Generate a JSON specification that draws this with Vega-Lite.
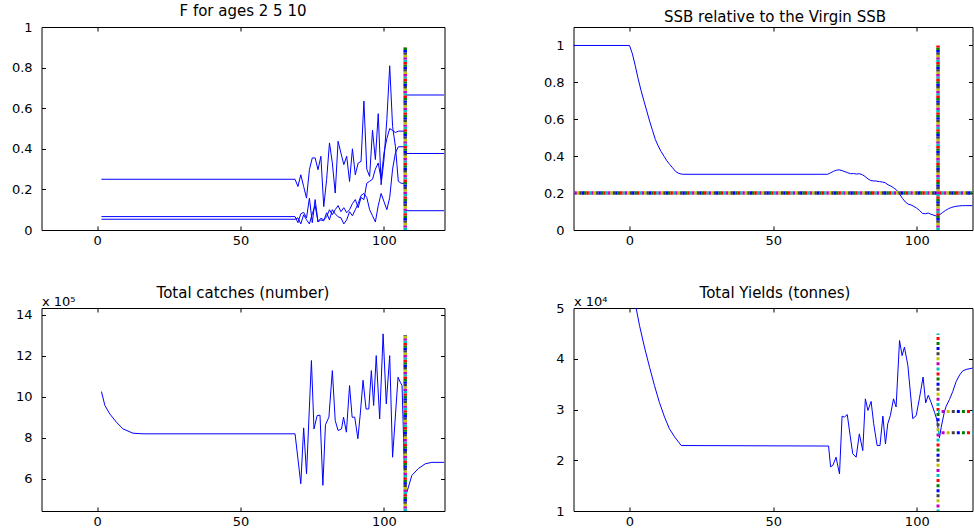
{
  "$schema": "https://vega.github.io/schema/vega-lite/v6.json",
  "background": "white",
  "padding": {"left": 10.5, "top": 3, "right": 0, "bottom": 0},
  "bounds": "flush",
  "columns": 2,
  "spacing": {"row": 78, "column": 129},
  "resolve": {"scale": {"strokeDash": "independent"}},
  "config": {
    "font": "DejaVu Sans",
    "view": {"stroke": "#000000", "strokeWidth": 1},
    "axis": {"labelFont": "DejaVu Sans", "labelFontSize": 13, "labelColor": "#000000", "tickColor": "#000000", "tickSize": -4, "tickWidth": 1, "domain": false, "grid": false, "labelFlush": false, "labelOverlap": false},
    "axisX": {"format": "d"},
    "axisY": {"format": "~g"},
    "axisBottom": {"labelPadding": 8.5},
    "axisLeft": {"labelPadding": 13.4},
    "title": {"font": "DejaVu Sans", "fontSize": 15, "fontWeight": "normal", "color": "#000000", "frame": "group", "baseline": "alphabetic", "anchor": "middle"}
  },
  "datasets": {
    "tl": [
      {"s": "a", "x": 1.5, "y": 0.25}, {"s": "a", "x": 69, "y": 0.25}, {"s": "a", "x": 70, "y": 0.214}, {"s": "a", "x": 71, "y": 0.272}, {"s": "a", "x": 72, "y": 0.214}, {"s": "a", "x": 73, "y": 0.157}, {"s": "a", "x": 74, "y": 0.297}, {"s": "a", "x": 75, "y": 0.355}, {"s": "a", "x": 76, "y": 0.355}, {"s": "a", "x": 77, "y": 0.297}, {"s": "a", "x": 78, "y": 0.363}, {"s": "a", "x": 79, "y": 0.115}, {"s": "a", "x": 80, "y": 0.248}, {"s": "a", "x": 81, "y": 0.429}, {"s": "a", "x": 82, "y": 0.33}, {"s": "a", "x": 83, "y": 0.182}, {"s": "a", "x": 84, "y": 0.437}, {"s": "a", "x": 85, "y": 0.379}, {"s": "a", "x": 86, "y": 0.322}, {"s": "a", "x": 87, "y": 0.363}, {"s": "a", "x": 88, "y": 0.239}, {"s": "a", "x": 89, "y": 0.4}, {"s": "a", "x": 90, "y": 0.272}, {"s": "a", "x": 91, "y": 0.33}, {"s": "a", "x": 92, "y": 0.338}, {"s": "a", "x": 93, "y": 0.635}, {"s": "a", "x": 94, "y": 0.3}, {"s": "a", "x": 95, "y": 0.264}, {"s": "a", "x": 96, "y": 0.492}, {"s": "a", "x": 97, "y": 0.347}, {"s": "a", "x": 98, "y": 0.573}, {"s": "a", "x": 99, "y": 0.223}, {"s": "a", "x": 100, "y": 0.347}, {"s": "a", "x": 101, "y": 0.545}, {"s": "a", "x": 102, "y": 0.809}, {"s": "a", "x": 103, "y": 0.51}, {"s": "a", "x": 104, "y": 0.41}, {"s": "a", "x": 105, "y": 0.24}, {"s": "a", "x": 106, "y": 0.23}, {"s": "a", "x": 107.4, "y": 0.23},
      {"s": "b", "x": 1.5, "y": 0.066}, {"s": "b", "x": 69, "y": 0.066}, {"s": "b", "x": 70, "y": 0.036}, {"s": "b", "x": 71, "y": 0.08}, {"s": "b", "x": 72, "y": 0.087}, {"s": "b", "x": 73, "y": 0.06}, {"s": "b", "x": 74, "y": 0.157}, {"s": "b", "x": 75, "y": 0.036}, {"s": "b", "x": 76, "y": 0.15}, {"s": "b", "x": 77, "y": 0.04}, {"s": "b", "x": 78, "y": 0.058}, {"s": "b", "x": 79, "y": 0.05}, {"s": "b", "x": 80, "y": 0.065}, {"s": "b", "x": 81, "y": 0.1}, {"s": "b", "x": 82, "y": 0.075}, {"s": "b", "x": 83, "y": 0.1}, {"s": "b", "x": 84, "y": 0.12}, {"s": "b", "x": 85, "y": 0.09}, {"s": "b", "x": 86, "y": 0.11}, {"s": "b", "x": 87, "y": 0.085}, {"s": "b", "x": 88, "y": 0.1}, {"s": "b", "x": 89, "y": 0.13}, {"s": "b", "x": 90, "y": 0.15}, {"s": "b", "x": 91, "y": 0.11}, {"s": "b", "x": 92, "y": 0.16}, {"s": "b", "x": 93, "y": 0.15}, {"s": "b", "x": 94, "y": 0.23}, {"s": "b", "x": 95, "y": 0.24}, {"s": "b", "x": 96, "y": 0.25}, {"s": "b", "x": 97, "y": 0.3}, {"s": "b", "x": 98, "y": 0.33}, {"s": "b", "x": 99, "y": 0.25}, {"s": "b", "x": 100, "y": 0.38}, {"s": "b", "x": 101, "y": 0.45}, {"s": "b", "x": 102, "y": 0.5}, {"s": "b", "x": 103, "y": 0.49}, {"s": "b", "x": 104, "y": 0.48}, {"s": "b", "x": 105, "y": 0.487}, {"s": "b", "x": 107.4, "y": 0.487},
      {"s": "c", "x": 1.5, "y": 0.053}, {"s": "c", "x": 69, "y": 0.053}, {"s": "c", "x": 70, "y": 0.06}, {"s": "c", "x": 71, "y": 0.03}, {"s": "c", "x": 72, "y": 0.075}, {"s": "c", "x": 73, "y": 0.05}, {"s": "c", "x": 74, "y": 0.03}, {"s": "c", "x": 75, "y": 0.08}, {"s": "c", "x": 76, "y": 0.12}, {"s": "c", "x": 77, "y": 0.04}, {"s": "c", "x": 78, "y": 0.05}, {"s": "c", "x": 79, "y": 0.045}, {"s": "c", "x": 80, "y": 0.085}, {"s": "c", "x": 81, "y": 0.05}, {"s": "c", "x": 82, "y": 0.1}, {"s": "c", "x": 83, "y": 0.08}, {"s": "c", "x": 84, "y": 0.065}, {"s": "c", "x": 85, "y": 0.06}, {"s": "c", "x": 86, "y": 0.03}, {"s": "c", "x": 87, "y": 0.05}, {"s": "c", "x": 88, "y": 0.09}, {"s": "c", "x": 89, "y": 0.07}, {"s": "c", "x": 90, "y": 0.1}, {"s": "c", "x": 91, "y": 0.13}, {"s": "c", "x": 92, "y": 0.17}, {"s": "c", "x": 93, "y": 0.18}, {"s": "c", "x": 94, "y": 0.16}, {"s": "c", "x": 95, "y": 0.1}, {"s": "c", "x": 96, "y": 0.07}, {"s": "c", "x": 97, "y": 0.04}, {"s": "c", "x": 98, "y": 0.12}, {"s": "c", "x": 99, "y": 0.18}, {"s": "c", "x": 100, "y": 0.14}, {"s": "c", "x": 101, "y": 0.1}, {"s": "c", "x": 102, "y": 0.16}, {"s": "c", "x": 103, "y": 0.3}, {"s": "c", "x": 104, "y": 0.38}, {"s": "c", "x": 105, "y": 0.41}, {"s": "c", "x": 107.4, "y": 0.41},
      {"s": "pa", "x": 107.4, "y": 0.665}, {"s": "pa", "x": 121, "y": 0.665},
      {"s": "pb", "x": 107.4, "y": 0.377}, {"s": "pb", "x": 121, "y": 0.377},
      {"s": "pc", "x": 107.4, "y": 0.095}, {"s": "pc", "x": 121, "y": 0.095}
    ],
    "tlr": [
      {"x": 107.4, "x2": 107.4, "y": 0, "y2": 0.9, "k": "0"}, {"x": 107.4, "x2": 107.4, "y": 0, "y2": 0.9, "k": "1"}, {"x": 107.4, "x2": 107.4, "y": 0, "y2": 0.9, "k": "2"}, {"x": 107.4, "x2": 107.4, "y": 0, "y2": 0.9, "k": "3"}, {"x": 107.4, "x2": 107.4, "y": 0, "y2": 0.9, "k": "4"}, {"x": 107.4, "x2": 107.4, "y": 0, "y2": 0.9, "k": "5"}, {"x": 107.4, "x2": 107.4, "y": 0, "y2": 0.9, "k": "6"}
    ],
    "tr": [
      {"x": -20, "y": 1}, {"x": 0, "y": 1}, {"x": 1, "y": 0.955}, {"x": 2, "y": 0.89}, {"x": 3, "y": 0.82}, {"x": 4, "y": 0.757}, {"x": 5, "y": 0.7}, {"x": 6, "y": 0.645}, {"x": 7, "y": 0.59}, {"x": 8, "y": 0.54}, {"x": 9, "y": 0.49}, {"x": 10, "y": 0.455}, {"x": 11, "y": 0.425}, {"x": 12, "y": 0.4}, {"x": 13, "y": 0.375}, {"x": 14, "y": 0.355}, {"x": 15, "y": 0.337}, {"x": 16, "y": 0.318}, {"x": 17, "y": 0.308}, {"x": 18, "y": 0.303}, {"x": 19, "y": 0.302}, {"x": 69, "y": 0.302}, {"x": 70, "y": 0.31}, {"x": 71, "y": 0.318}, {"x": 72, "y": 0.324}, {"x": 73, "y": 0.326}, {"x": 74, "y": 0.322}, {"x": 75, "y": 0.316}, {"x": 76, "y": 0.31}, {"x": 77, "y": 0.305}, {"x": 78, "y": 0.306}, {"x": 79, "y": 0.303}, {"x": 80, "y": 0.305}, {"x": 81, "y": 0.3}, {"x": 82, "y": 0.29}, {"x": 83, "y": 0.277}, {"x": 84, "y": 0.268}, {"x": 85, "y": 0.266}, {"x": 86, "y": 0.265}, {"x": 87, "y": 0.262}, {"x": 88, "y": 0.26}, {"x": 89, "y": 0.256}, {"x": 90, "y": 0.245}, {"x": 91, "y": 0.238}, {"x": 92, "y": 0.228}, {"x": 93, "y": 0.216}, {"x": 94, "y": 0.195}, {"x": 95, "y": 0.172}, {"x": 96, "y": 0.152}, {"x": 97, "y": 0.14}, {"x": 98, "y": 0.136}, {"x": 99, "y": 0.128}, {"x": 100, "y": 0.118}, {"x": 101, "y": 0.105}, {"x": 102, "y": 0.09}, {"x": 103, "y": 0.088}, {"x": 104, "y": 0.092}, {"x": 105, "y": 0.085}, {"x": 106, "y": 0.08}, {"x": 107, "y": 0.075}, {"x": 108, "y": 0.083}, {"x": 109, "y": 0.095}, {"x": 110, "y": 0.106}, {"x": 111, "y": 0.115}, {"x": 112, "y": 0.122}, {"x": 113, "y": 0.126}, {"x": 114, "y": 0.129}, {"x": 115, "y": 0.131}, {"x": 116, "y": 0.132}, {"x": 117, "y": 0.132}, {"x": 121, "y": 0.132}
    ],
    "trr": [
      {"x": -20, "x2": 121, "y": 0.2, "y2": 0.2, "k": "0"}, {"x": -20, "x2": 121, "y": 0.2, "y2": 0.2, "k": "1"}, {"x": -20, "x2": 121, "y": 0.2, "y2": 0.2, "k": "2"}, {"x": -20, "x2": 121, "y": 0.2, "y2": 0.2, "k": "3"}, {"x": -20, "x2": 121, "y": 0.2, "y2": 0.2, "k": "4"}, {"x": -20, "x2": 121, "y": 0.2, "y2": 0.2, "k": "5"}, {"x": -20, "x2": 121, "y": 0.2, "y2": 0.2, "k": "6"},
      {"x": 107.4, "x2": 107.4, "y": 0, "y2": 1, "k": "0"}, {"x": 107.4, "x2": 107.4, "y": 0, "y2": 1, "k": "1"}, {"x": 107.4, "x2": 107.4, "y": 0, "y2": 1, "k": "2"}, {"x": 107.4, "x2": 107.4, "y": 0, "y2": 1, "k": "3"}, {"x": 107.4, "x2": 107.4, "y": 0, "y2": 1, "k": "4"}, {"x": 107.4, "x2": 107.4, "y": 0, "y2": 1, "k": "5"}, {"x": 107.4, "x2": 107.4, "y": 0, "y2": 1, "k": "6"}
    ],
    "bl": [
      {"x": 1.5, "y": 1025000}, {"x": 2.7, "y": 957000}, {"x": 4.4, "y": 916000}, {"x": 6.7, "y": 876000}, {"x": 9, "y": 843000}, {"x": 12.5, "y": 822000}, {"x": 16, "y": 819000}, {"x": 69, "y": 819000}, {"x": 71, "y": 576000}, {"x": 72, "y": 848000}, {"x": 73, "y": 624000}, {"x": 74.7, "y": 1176000}, {"x": 75.6, "y": 843000}, {"x": 76.7, "y": 908000}, {"x": 77.7, "y": 910000}, {"x": 78.7, "y": 568000}, {"x": 79.6, "y": 863000}, {"x": 80.8, "y": 900000}, {"x": 82, "y": 1127000}, {"x": 83, "y": 884000}, {"x": 84, "y": 835000}, {"x": 85.2, "y": 843000}, {"x": 85.9, "y": 900000}, {"x": 86.9, "y": 827000}, {"x": 88, "y": 1054000}, {"x": 88.9, "y": 900000}, {"x": 89.8, "y": 900000}, {"x": 90.9, "y": 795000}, {"x": 91.8, "y": 925000}, {"x": 92.7, "y": 1080000}, {"x": 93.75, "y": 940000}, {"x": 94.7, "y": 940000}, {"x": 95.6, "y": 1127000}, {"x": 96.4, "y": 957000}, {"x": 97.3, "y": 1200000}, {"x": 98.5, "y": 892000}, {"x": 99.7, "y": 1306000}, {"x": 100.8, "y": 965000}, {"x": 102, "y": 1200000}, {"x": 103, "y": 705000}, {"x": 104.9, "y": 1095000}, {"x": 105.7, "y": 1070000}, {"x": 106.3, "y": 1054000}, {"x": 107.4, "y": 519000}, {"x": 108, "y": 535000}, {"x": 109.7, "y": 616000}, {"x": 112, "y": 650000}, {"x": 114.4, "y": 673000}, {"x": 116.7, "y": 680000}, {"x": 121, "y": 680000}
    ],
    "blr": [
      {"x": 107.4, "x2": 107.4, "y": 443000, "y2": 1300000, "k": "0"}, {"x": 107.4, "x2": 107.4, "y": 443000, "y2": 1300000, "k": "1"}, {"x": 107.4, "x2": 107.4, "y": 443000, "y2": 1300000, "k": "2"}, {"x": 107.4, "x2": 107.4, "y": 443000, "y2": 1300000, "k": "3"}, {"x": 107.4, "x2": 107.4, "y": 443000, "y2": 1300000, "k": "4"}, {"x": 107.4, "x2": 107.4, "y": 443000, "y2": 1300000, "k": "5"}, {"x": 107.4, "x2": 107.4, "y": 443000, "y2": 1300000, "k": "6"}
    ],
    "br": [
      {"x": 1, "y": 53700}, {"x": 2.3, "y": 50000}, {"x": 3.5, "y": 46500}, {"x": 5.2, "y": 42300}, {"x": 7, "y": 38300}, {"x": 8.7, "y": 34700}, {"x": 10.4, "y": 31400}, {"x": 12.2, "y": 28500}, {"x": 13.9, "y": 26200}, {"x": 15.7, "y": 24600}, {"x": 18, "y": 22900}, {"x": 69.3, "y": 22800}, {"x": 70, "y": 18700}, {"x": 70.8, "y": 19000}, {"x": 71.9, "y": 20600}, {"x": 73.1, "y": 17300}, {"x": 74, "y": 28700}, {"x": 74.8, "y": 28500}, {"x": 75.8, "y": 29000}, {"x": 76.8, "y": 24900}, {"x": 77.7, "y": 21300}, {"x": 78.9, "y": 20600}, {"x": 80, "y": 25200}, {"x": 81.2, "y": 21900}, {"x": 82.1, "y": 32100}, {"x": 83, "y": 29800}, {"x": 84.1, "y": 31600}, {"x": 85, "y": 27200}, {"x": 86.2, "y": 22900}, {"x": 87.2, "y": 22900}, {"x": 88.2, "y": 28700}, {"x": 89.1, "y": 23200}, {"x": 89.9, "y": 27200}, {"x": 90.8, "y": 28800}, {"x": 91.9, "y": 32100}, {"x": 92.8, "y": 30500}, {"x": 94, "y": 43600}, {"x": 94.9, "y": 40600}, {"x": 95.7, "y": 42300}, {"x": 96.9, "y": 38700}, {"x": 98.6, "y": 28200}, {"x": 99.8, "y": 28800}, {"x": 100.9, "y": 32100}, {"x": 102.2, "y": 36400}, {"x": 103.1, "y": 31300}, {"x": 104, "y": 32800}, {"x": 105, "y": 31400}, {"x": 106.2, "y": 29400}, {"x": 107, "y": 28000}, {"x": 107.9, "y": 24400}, {"x": 108.5, "y": 26500}, {"x": 109.6, "y": 29500}, {"x": 110.2, "y": 30600}, {"x": 111.4, "y": 32000}, {"x": 112.5, "y": 33500}, {"x": 113.7, "y": 35500}, {"x": 114.9, "y": 36800}, {"x": 116, "y": 37600}, {"x": 117.2, "y": 37900}, {"x": 119.8, "y": 38200}, {"x": 121, "y": 38200}
    ],
    "brr": [
      {"x": 107.4, "x2": 107.4, "y": 10000, "y2": 45000, "k": "0"}, {"x": 107.4, "x2": 107.4, "y": 10000, "y2": 45000, "k": "1"}, {"x": 107.4, "x2": 107.4, "y": 10000, "y2": 45000, "k": "2"}, {"x": 107.4, "x2": 107.4, "y": 10000, "y2": 45000, "k": "3"}, {"x": 107.4, "x2": 107.4, "y": 10000, "y2": 45000, "k": "4"}, {"x": 107.4, "x2": 107.4, "y": 10000, "y2": 45000, "k": "5"}, {"x": 107.4, "x2": 107.4, "y": 10000, "y2": 45000, "k": "6"},
      {"x": 107.4, "x2": 121, "y": 29600, "y2": 29600, "k": "0"}, {"x": 107.4, "x2": 121, "y": 29600, "y2": 29600, "k": "1"}, {"x": 107.4, "x2": 121, "y": 29600, "y2": 29600, "k": "2"}, {"x": 107.4, "x2": 121, "y": 29600, "y2": 29600, "k": "3"}, {"x": 107.4, "x2": 121, "y": 29600, "y2": 29600, "k": "4"}, {"x": 107.4, "x2": 121, "y": 29600, "y2": 29600, "k": "5"}, {"x": 107.4, "x2": 121, "y": 29600, "y2": 29600, "k": "6"},
      {"x": 107.4, "x2": 121, "y": 25400, "y2": 25400, "k": "0"}, {"x": 107.4, "x2": 121, "y": 25400, "y2": 25400, "k": "1"}, {"x": 107.4, "x2": 121, "y": 25400, "y2": 25400, "k": "2"}, {"x": 107.4, "x2": 121, "y": 25400, "y2": 25400, "k": "3"}, {"x": 107.4, "x2": 121, "y": 25400, "y2": 25400, "k": "4"}, {"x": 107.4, "x2": 121, "y": 25400, "y2": 25400, "k": "5"}, {"x": 107.4, "x2": 121, "y": 25400, "y2": 25400, "k": "6"}
    ]
  },
  "concat": [
    {
      "width": 403, "height": 203,
      "title": {"text": "F for ages 2 5 10", "offset": 2},
      "layer": [
        {
          "data": {"name": "tl"},
          "mark": {"type": "line", "color": "#0000ff", "strokeWidth": 1, "clip": true},
          "encoding": {
            "x": {"field": "x", "type": "quantitative", "scale": {"domain": [-19.4, 121.1], "nice": false, "zero": false}, "axis": {"orient": "bottom", "values": [0, 50, 100], "title": null}},
            "y": {"field": "y", "type": "quantitative", "scale": {"domain": [0, 1], "nice": false, "zero": false}, "axis": {"orient": "left", "values": [0, 0.2, 0.4, 0.6, 0.8, 1], "title": null}},
            "detail": {"field": "s", "type": "nominal"}
          }
        },
        {
          "data": {"name": "tlr"},
          "mark": {"type": "rule", "strokeWidth": 3.5, "strokeCap": "butt", "clip": true},
          "encoding": {
            "x": {"field": "x", "type": "quantitative", "scale": {"domain": [-19.4, 121.1], "nice": false, "zero": false}, "axis": {"orient": "top", "labels": false, "values": [0, 50, 100], "title": null}},
            "x2": {"field": "x2"},
            "y": {"field": "y", "type": "quantitative", "scale": {"domain": [0, 1], "nice": false, "zero": false}, "axis": {"orient": "right", "labels": false, "values": [0, 0.2, 0.4, 0.6, 0.8, 1], "title": null}},
            "y2": {"field": "y2"},
            "color": {"field": "k", "type": "nominal", "scale": {"domain": ["0", "1", "2", "3", "4", "5", "6"], "range": ["#00bfbf", "#bf00bf", "#bfbf00", "#404040", "#0000ff", "#008000", "#ff0000"]}, "legend": null},
            "strokeDash": {"field": "k", "type": "nominal", "scale": {"domain": ["0", "1", "2", "3", "4", "5", "6"], "range": [[0, 0, 2.4, 14.4], [0, 2.4, 2.4, 12], [0, 4.8, 2.4, 9.6], [0, 7.2, 2.4, 7.2], [0, 9.6, 2.4, 4.8], [0, 12, 2.4, 2.4], [0, 14.4, 2.4, 0]]}, "legend": null}
          }
        }
      ],
      "resolve": {"axis": {"x": "independent", "y": "independent"}}
    },
    {
      "width": 399, "height": 203,
      "title": {"text": "SSB relative to the Virgin SSB", "dx": 2, "offset": 2},
      "layer": [
        {
          "data": {"name": "tr"},
          "mark": {"type": "line", "color": "#0000ff", "strokeWidth": 1, "clip": true},
          "encoding": {
            "x": {"field": "x", "type": "quantitative", "scale": {"domain": [-19.5, 119.4], "nice": false, "zero": false}, "axis": {"orient": "bottom", "values": [0, 50, 100], "title": null}},
            "y": {"field": "y", "type": "quantitative", "scale": {"domain": [0, 1.1], "nice": false, "zero": false}, "axis": {"orient": "left", "values": [0, 0.2, 0.4, 0.6, 0.8, 1], "title": null}}
          }
        },
        {
          "data": {"name": "trr"},
          "mark": {"type": "rule", "strokeWidth": 3.5, "strokeCap": "butt", "clip": true},
          "encoding": {
            "x": {"field": "x", "type": "quantitative", "scale": {"domain": [-19.5, 119.4], "nice": false, "zero": false}, "axis": {"orient": "top", "labels": false, "values": [0, 50, 100], "title": null}},
            "x2": {"field": "x2"},
            "y": {"field": "y", "type": "quantitative", "scale": {"domain": [0, 1.1], "nice": false, "zero": false}, "axis": {"orient": "right", "labels": false, "values": [0, 0.2, 0.4, 0.6, 0.8, 1], "title": null}},
            "y2": {"field": "y2"},
            "color": {"field": "k", "type": "nominal", "scale": {"domain": ["0", "1", "2", "3", "4", "5", "6"], "range": ["#00bfbf", "#bf00bf", "#bfbf00", "#404040", "#0000ff", "#008000", "#ff0000"]}, "legend": null},
            "strokeDash": {"field": "k", "type": "nominal", "scale": {"domain": ["0", "1", "2", "3", "4", "5", "6"], "range": [[0, 0, 2.4, 14.4], [0, 2.4, 2.4, 12], [0, 4.8, 2.4, 9.6], [0, 7.2, 2.4, 7.2], [0, 9.6, 2.4, 4.8], [0, 12, 2.4, 2.4], [0, 14.4, 2.4, 0]]}, "legend": null}
          }
        }
      ],
      "resolve": {"axis": {"x": "independent", "y": "independent"}}
    },
    {
      "width": 403, "height": 203,
      "title": {"text": "Total catches (number)", "offset": -6},
      "layer": [
        {
          "data": {"name": "bl"},
          "mark": {"type": "line", "color": "#0000ff", "strokeWidth": 1, "clip": true},
          "encoding": {
            "x": {"field": "x", "type": "quantitative", "scale": {"domain": [-19.4, 121.1], "nice": false, "zero": false}, "axis": {"orient": "bottom", "values": [0, 50, 100], "title": null}},
            "y": {"field": "y", "type": "quantitative", "scale": {"domain": [443000, 1432000], "nice": false, "zero": false}, "axis": {"orient": "left", "values": [600000, 800000, 1000000, 1200000, 1400000], "labelExpr": "datum.value / 100000", "title": "x 10⁵", "titleAngle": 0, "titleAlign": "left", "titleBaseline": "alphabetic", "titleX": 0, "titleY": -3, "titleFont": "DejaVu Sans", "titleFontSize": 13, "titleFontWeight": "normal", "titleColor": "#000000"}}
          }
        },
        {
          "data": {"name": "blr"},
          "mark": {"type": "rule", "strokeWidth": 3.5, "strokeCap": "butt", "clip": true},
          "encoding": {
            "x": {"field": "x", "type": "quantitative", "scale": {"domain": [-19.4, 121.1], "nice": false, "zero": false}, "axis": {"orient": "top", "labels": false, "values": [0, 50, 100], "title": null}},
            "x2": {"field": "x2"},
            "y": {"field": "y", "type": "quantitative", "scale": {"domain": [443000, 1432000], "nice": false, "zero": false}, "axis": {"orient": "right", "labels": false, "values": [600000, 800000, 1000000, 1200000, 1400000], "title": null}},
            "y2": {"field": "y2"},
            "color": {"field": "k", "type": "nominal", "scale": {"domain": ["0", "1", "2", "3", "4", "5", "6"], "range": ["#00bfbf", "#bf00bf", "#bfbf00", "#404040", "#0000ff", "#008000", "#ff0000"]}, "legend": null},
            "strokeDash": {"field": "k", "type": "nominal", "scale": {"domain": ["0", "1", "2", "3", "4", "5", "6"], "range": [[0, 0, 2.4, 14.4], [0, 2.4, 2.4, 12], [0, 4.8, 2.4, 9.6], [0, 7.2, 2.4, 7.2], [0, 9.6, 2.4, 4.8], [0, 12, 2.4, 2.4], [0, 14.4, 2.4, 0]]}, "legend": null}
          }
        }
      ],
      "resolve": {"axis": {"x": "independent", "y": "independent"}}
    },
    {
      "width": 399, "height": 203,
      "title": {"text": "Total Yields (tonnes)", "dx": 2, "offset": -6},
      "layer": [
        {
          "data": {"name": "br"},
          "mark": {"type": "line", "color": "#0000ff", "strokeWidth": 1, "clip": true},
          "encoding": {
            "x": {"field": "x", "type": "quantitative", "scale": {"domain": [-19.5, 119.4], "nice": false, "zero": false}, "axis": {"orient": "bottom", "values": [0, 50, 100], "title": null}},
            "y": {"field": "y", "type": "quantitative", "scale": {"domain": [10000, 50000], "nice": false, "zero": false}, "axis": {"orient": "left", "values": [10000, 20000, 30000, 40000, 50000], "labelExpr": "datum.value / 10000", "title": "x 10⁴", "titleAngle": 0, "titleAlign": "left", "titleBaseline": "alphabetic", "titleX": 0, "titleY": -3, "titleFont": "DejaVu Sans", "titleFontSize": 13, "titleFontWeight": "normal", "titleColor": "#000000"}}
          }
        },
        {
          "data": {"name": "brr"},
          "mark": {"type": "rule", "strokeWidth": 3, "strokeCap": "butt", "strokeDashOffset": 1.5, "clip": true},
          "encoding": {
            "x": {"field": "x", "type": "quantitative", "scale": {"domain": [-19.5, 119.4], "nice": false, "zero": false}, "axis": {"orient": "top", "labels": false, "values": [0, 50, 100], "title": null}},
            "x2": {"field": "x2"},
            "y": {"field": "y", "type": "quantitative", "scale": {"domain": [10000, 50000], "nice": false, "zero": false}, "axis": {"orient": "right", "labels": false, "values": [10000, 20000, 30000, 40000, 50000], "title": null}},
            "y2": {"field": "y2"},
            "color": {"field": "k", "type": "nominal", "scale": {"domain": ["0", "1", "2", "3", "4", "5", "6"], "range": ["#00bfbf", "#bf00bf", "#bfbf00", "#404040", "#0000ff", "#008000", "#ff0000"]}, "legend": null},
            "strokeDash": {"field": "k", "type": "nominal", "scale": {"domain": ["0", "1", "2", "3", "4", "5", "6"], "range": [[0, 0, 3, 32.525], [0, 5.075, 3, 27.45], [0, 10.15, 3, 22.375], [0, 15.225, 3, 17.3], [0, 20.3, 3, 12.225], [0, 25.375, 3, 7.15], [0, 30.45, 3, 2.075]]}, "legend": null}
          }
        }
      ],
      "resolve": {"axis": {"x": "independent", "y": "independent"}}
    }
  ]
}
